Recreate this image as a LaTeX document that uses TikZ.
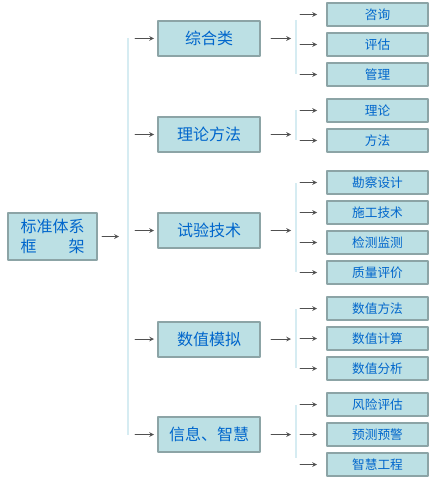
\documentclass[tikz,border=0pt]{standalone}
\usepackage{fontspec}
\newfontfamily\cjk{Noto Sans CJK SC}
\usepackage{tikz}
\usetikzlibrary{arrows,calc,positioning}
\definecolor{boxfill}{RGB}{188,224,228}
\definecolor{boxline}{RGB}{140,164,166}
\definecolor{txtblue}{RGB}{0,102,204}
\definecolor{barline}{RGB}{214,236,242}
\definecolor{jtgray}{RGB}{80,80,80}

\begin{document}
\begin{tikzpicture}[x=0.75pt,y=-0.75pt,line join=round,line cap=round,>=stealth,
  kuang/.style={draw=boxline,fill=boxfill,line width=1.5pt,text=txtblue,inner sep=0pt},
  genlei/.style={kuang,minimum width=66.75pt,minimum height=35.25pt,align=center,font=\cjk\fontsize{12pt}{14.5pt}\selectfont},
  dalei/.style={kuang,minimum width=76.5pt,minimum height=26.25pt,font=\cjk\fontsize{12pt}{14pt}\selectfont},
  xiaolei/.style={kuang,minimum width=75.75pt,minimum height=17.25pt,font=\cjk\fontsize{9.5pt}{11pt}\selectfont},
  bar/.style={draw=barline,line width=1.5pt,line cap=butt},
  jt/.style={->,draw=jtgray,line width=0.6pt}]
\useasboundingbox (0,0) rectangle (436,481);
% root
\node[genlei] (R) at (52.5,236.5) {标准体系\\\makebox[4em][s]{框\hfill 架}};
\coordinate (Zt) at (128,38);
\coordinate (Zb) at (128,435);
\draw[bar] (Zt)--(Zb);
\draw[jt,shorten <=3pt,shorten >=6.75pt] (R.east) -- (R.east-|Zt);
% level 1
\foreach \n/\t/\y in {A/综合类/38.5,B/理论方法/134.5,C/试验技术/230.5,D/数值模拟/339,E/信息、智慧/434.5}{
  \node[dalei] (\n) at (209,\y) {\t};
  \draw[jt,shorten <=5.25pt,shorten >=2.25pt] (\n.west-|Zt) -- (\n.west);}
% brackets
\foreach \p/\a/\b in {A/20/74,B/110/140,C/183/272,D/309/368,E/405/458}{
  \coordinate (\p t) at (296,\a);
  \coordinate (\p b) at (296,\b);
  \draw[bar] (\p t)--(\p b);
  \draw[jt,shorten <=7.5pt,shorten >=3.75pt] (\p.east) -- (\p.east-|\p t);}
% level 2
\foreach \n/\t/\y/\p in {A1/咨询/14.5/A,A2/评估/44.5/A,A3/管理/74.5/A,
  B1/理论/110.5/B,B2/方法/140.5/B,
  C1/勘察设计/182.5/C,C2/施工技术/212.5/C,C3/检测监测/242.5/C,C4/质量评价/272.5/C,
  D1/数值方法/308.5/D,D2/数值计算/338.5/D,D3/数值分析/368.5/D,
  E1/风险评估/404.5/E,E2/预测预警/434.5/E,E3/智慧工程/464.5/E}{
  \node[xiaolei] (\n) at (377.5,\y) {\t};
  \draw[jt,shorten <=3pt,shorten >=6.75pt] (\n.west-|\p t) -- (\n.west);}
\end{tikzpicture}
\end{document}
